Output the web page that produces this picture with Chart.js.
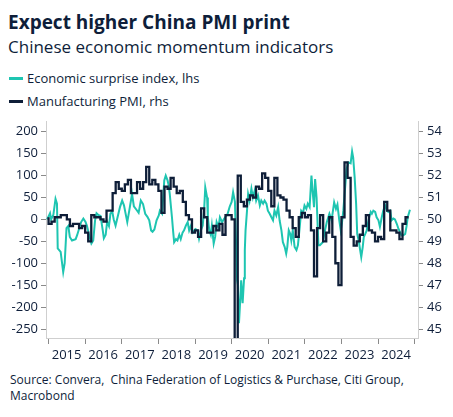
<!DOCTYPE html>
<html>
<head>
<meta charset="utf-8">
<script src="https://cdn.jsdelivr.net/npm/chart.js@4"></script>
<style>
  body { margin: 0; background: #fff; font-family: "Open Sans", sans-serif; color: #0e1e3a; }
  #wrap { position: relative; width: 453px; height: 417px; overflow: hidden; }
  .title { position: absolute; left: 8px; top: 9px; font-size: 19px; font-weight: 700; }
  .subtitle { position: absolute; left: 8px; top: 35px; font-size: 17px; }
  .legend { position: absolute; left: 9px; font-size: 13px; }
  .legend i { display: inline-block; width: 14px; height: 3px; vertical-align: middle; margin-right: 4px; position: relative; top: -1px; }
  .source { position: absolute; left: 10px; top: 372px; font-size: 12px; line-height: 16px; }
  canvas { position: absolute; left: 0; top: 110px; }
</style>
</head>
<body>
<div id="wrap">
  <div class="title">Expect higher China PMI print</div>
  <div class="subtitle">Chinese economic momentum indicators</div>
  <div class="legend" style="top:69px"><i style="background:#1ec5b1"></i>Economic surprise index, lhs</div>
  <div class="legend" style="top:92px"><i style="background:#0e1e38"></i>Manufacturing PMI, rhs</div>
  <div class="source">Source: Convera,&nbsp; China Federation of Logistics &amp; Purchase, Citi Group,<br>Macrobond</div>
  <canvas id="chart" width="453" height="265"></canvas>
</div>
<script>
// Citi economic surprise index (China): date in decimal years
const surpriseDates = [
    2014.96, 2015.04, 2015.07, 2015.13, 2015.19, 2015.23, 2015.25, 2015.33, 2015.40, 2015.44,
    2015.49, 2015.54, 2015.58, 2015.64, 2015.74, 2015.78, 2015.89, 2015.95, 2016.01, 2016.05,
    2016.12, 2016.17, 2016.22, 2016.27, 2016.31, 2016.36, 2016.42, 2016.48, 2016.51, 2016.56,
    2016.60, 2016.65, 2016.69, 2016.74, 2016.78, 2016.83, 2016.87, 2016.95, 2017.01, 2017.06,
    2017.10, 2017.15, 2017.22, 2017.28, 2017.33, 2017.40, 2017.46, 2017.52, 2017.58, 2017.64,
    2017.70, 2017.75, 2017.80, 2017.84, 2017.89, 2017.95, 2018.01, 2018.04, 2018.10, 2018.16,
    2018.20, 2018.25, 2018.28, 2018.31, 2018.37, 2018.40, 2018.43, 2018.48, 2018.52, 2018.57,
    2018.61, 2018.66, 2018.70, 2018.75, 2018.80, 2018.84, 2018.89, 2018.93, 2019.01, 2019.07,
    2019.11, 2019.16, 2019.21, 2019.25, 2019.28, 2019.33, 2019.35, 2019.39, 2019.43, 2019.46,
    2019.51, 2019.55, 2019.59, 2019.64, 2019.68, 2019.74, 2019.80, 2019.89, 2019.95, 2020.00,
    2020.04, 2020.09, 2020.15, 2020.17, 2020.20, 2020.24, 2020.26, 2020.30, 2020.34, 2020.36,
    2020.38, 2020.42, 2020.45, 2020.49, 2020.54, 2020.58, 2020.63, 2020.67, 2020.72, 2020.77,
    2020.81, 2020.86, 2020.90, 2020.95, 2020.99, 2021.04, 2021.08, 2021.13, 2021.17, 2021.22,
    2021.27, 2021.31, 2021.36, 2021.40, 2021.45, 2021.49, 2021.52, 2021.56, 2021.60, 2021.63,
    2021.67, 2021.72, 2021.77, 2021.81, 2021.86, 2021.90, 2021.95, 2021.99, 2022.04, 2022.08,
    2022.13, 2022.18, 2022.21, 2022.25, 2022.28, 2022.32, 2022.37, 2022.41, 2022.49, 2022.55,
    2022.60, 2022.67, 2022.73, 2022.80, 2022.85, 2022.89, 2022.94, 2022.98, 2023.01, 2023.05,
    2023.10, 2023.14, 2023.19, 2023.25, 2023.29, 2023.32, 2023.36, 2023.40, 2023.43, 2023.47,
    2023.51, 2023.54, 2023.58, 2023.61, 2023.65, 2023.69, 2023.72, 2023.76, 2023.80, 2023.83,
    2023.87, 2023.92, 2023.96, 2024.01, 2024.05, 2024.10, 2024.14, 2024.19, 2024.24, 2024.28,
    2024.33, 2024.37, 2024.42, 2024.46, 2024.51, 2024.55, 2024.60, 2024.64, 2024.69, 2024.74,
    2024.78, 2024.81, 2024.87
];
const surpriseValues = [
    0, 14, 0, 10, 47, 36, -66, -74, -120, -100,
    -20, -15, -40, -48, -45, -36, -6, 2, -6, -15,
    -40, -55, -48, -2, 14, 10, 8, -25, -43, -35,
    -5, -15, 13, 18, 0, -14, 0, 28, 43, 32,
    15, -6, 28, 58, 30, 22, 15, 43, 35, 13,
    6, -2, -25, -28, -23, -2, 9, 20, 13, 89,
    100, 89, 78, 58, 5, -25, -52, -45, -48, -35,
    -45, -30, -25, -14, -6, -25, -14, -30, -22, -25,
    -44, -25, -14, 24, 73, 50, 5, -25, -35, -14,
    -55, -40, -6, -18, 5, -6, 2, 13, 30, 40,
    62, 40, -139, -150, -237, -177, -139, -191, -134, -70,
    -25, 20, 58, 43, 70, 50, 66, 43, 55, 32,
    43, 36, 43, 36, 20, 13, 6, -2, 20, 9,
    28, -2, -25, -52, -63, -78, -63, -25, -33, -48,
    -25, -63, -70, -59, -17, 20, 15, 32, 24, 36,
    28, 100, 66, 28, 92, 50, -59, -59, -52, -25,
    -6, 13, -2, 39, 24, 34, -2, -25, -10, 20,
    73, 115, 130, 128, 155, 141, 96, 36, -33, -48,
    -70, -86, -63, -40, -33, -25, -10, 5, 17, 13,
    20, 17, 5, -2, -17, 5, 20, 32, 20, 17,
    20, -2, 2, 0, -10, -20, -29, -36, -36, -33,
    -14, 5, 22
];

// NBS manufacturing PMI, monthly, Dec 2014 .. Oct 2024
const pmiValues = [
    50.1,
    49.8, 49.9, 50.1, 50.1, 50.2, 50.2, 50.0, 49.7, 49.8, 49.8, 49.6, 49.7,
    49.4, 49.0, 50.2, 50.1, 50.1, 50.0, 49.9, 50.4, 50.4, 51.2, 51.7, 51.4,
    51.3, 51.6, 51.8, 51.2, 51.2, 51.7, 51.4, 51.7, 52.4, 51.6, 51.8, 51.6,
    51.3, 50.3, 51.5, 51.4, 51.9, 51.5, 51.2, 51.3, 50.8, 50.2, 50.0, 49.4,
    49.5, 49.2, 50.5, 50.1, 49.4, 49.4, 49.7, 49.5, 49.8, 49.3, 50.2, 50.2,
    50.0, 35.7, 52.0, 50.8, 50.6, 50.9, 51.1, 51.0, 51.5, 51.4, 52.1, 51.9,
    51.3, 50.6, 51.9, 51.1, 51.0, 50.9, 50.4, 50.1, 49.6, 49.2, 50.1, 50.3,
    50.1, 50.2, 49.5, 47.4, 49.6, 50.2, 49.0, 49.4, 50.1, 49.2, 48.0, 47.0,
    50.1, 52.6, 51.9, 49.2, 48.8, 49.0, 49.3, 49.7, 50.2, 49.5, 49.4, 49.0,
    49.2, 49.1, 50.8, 50.4, 49.5, 49.5, 49.4, 49.1, 49.8, 50.1
];

const yearTicks = [2015, 2016, 2017, 2018, 2019, 2020, 2021, 2022, 2023, 2024, 2025];
const leftTicks = [-250, -200, -150, -100, -50, 0, 50, 100, 150, 200];
const rightTicks = [45, 46, 47, 48, 49, 50, 51, 52, 53, 54];

const textColor = '#0e1e3a';
const tickFont = { family: 'Open Sans', size: 13 };

// month-end positions, first point = end of Dec 2014
const pmiPoints = pmiValues.map((v, i) => ({ x: 2015 + i / 12, y: v }));
const surprisePoints = surpriseDates.map((d, i) => ({ x: d, y: surpriseValues[i] }));

const setTicks = list => axis => { axis.ticks = list.map(v => ({ value: v })); };

new Chart(document.getElementById('chart').getContext('2d'), {
    type: 'line',
    data: {
        datasets: [{
            label: 'Manufacturing PMI, rhs',
            data: pmiPoints,
            yAxisID: 'y2',
            borderColor: '#0e1e38',
            borderWidth: 2.3,
            pointRadius: 0,
            stepped: 'after',
            order: 0
        }, {
            label: 'Economic surprise index, lhs',
            data: surprisePoints,
            yAxisID: 'y',
            borderColor: '#1ec5b1',
            borderWidth: 2,
            pointRadius: 0,
            tension: 0,
            order: 1
        }]
    },
    options: {
        responsive: false,
        animation: false,
        layout: { padding: { top: 11, left: 0, right: 0, bottom: 0 } },
        plugins: { legend: { display: false }, tooltip: { enabled: false } },
        scales: {
            x: {
                type: 'linear',
                min: 2014.93,
                max: 2025.09,
                afterBuildTicks: setTicks(yearTicks),
                afterFit: s => { s.height = 37; },
                border: { color: '#cfcfcf', width: 1 },
                grid: { drawOnChartArea: false, tickLength: 6, color: '#8a8a8a' },
                ticks: {
                    color: textColor,
                    font: tickFont,
                    padding: 3,
                    labelOffset: 18,
                    maxRotation: 0,
                    callback: v => (v < 2025 ? String(v) : '')
                }
            },
            y: {
                position: 'left',
                min: -270.5,
                max: 222.7,
                afterBuildTicks: setTicks(leftTicks),
                afterFit: s => { s.width = 46; },
                border: { color: '#cfcfcf', width: 1 },
                grid: { drawOnChartArea: false, tickLength: 5, color: '#8a8a8a' },
                ticks: { color: textColor, font: tickFont, padding: 3 }
            },
            y2: {
                position: 'right',
                min: 44.59,
                max: 54.454,
                afterBuildTicks: setTicks(rightTicks),
                afterFit: s => { s.width = 35; },
                border: { color: '#cfcfcf', width: 1 },
                grid: { drawOnChartArea: false, tickLength: 5, color: '#8a8a8a' },
                ticks: { color: textColor, font: tickFont, padding: 4 }
            }
        }
    }
});
</script>
</body>
</html>
